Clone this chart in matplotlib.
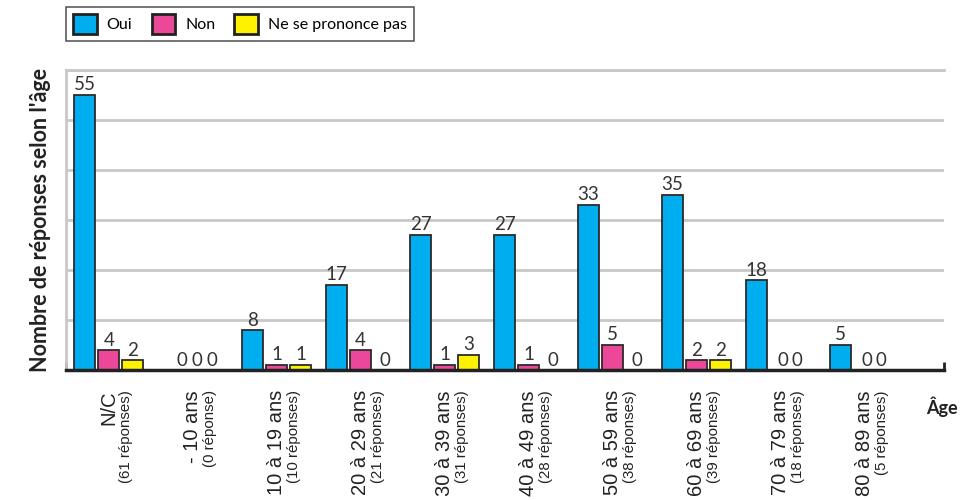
import matplotlib
matplotlib.use('Agg')
import matplotlib.pyplot as plt
from matplotlib.patches import Patch
import matplotlib.transforms as mtransforms
import numpy as np

# categories and sub-labels (number of answers per age group)
ages = ['N/C', '- 10 ans', '10 à 19 ans', '20 à 29 ans', '30 à 39 ans',
        '40 à 49 ans', '50 à 59 ans', '60 à 69 ans', '70 à 79 ans', '80 à 89 ans']
ages_sub = ['(61 réponses)', '(0 réponse)', '(10 réponses)', '(21 réponses)',
            '(31 réponses)', '(28 réponses)', '(38 réponses)', '(39 réponses)',
            '(18 réponses)', '(5 réponses)']

oui = [55, 0, 8, 17, 27, 27, 33, 35, 18, 5]
non = [4, 0, 1, 4, 1, 1, 5, 2, 0, 0]
nsp = [2, 0, 1, 0, 3, 0, 0, 2, 0, 0]

series_names = ['Oui', 'Non', 'Ne se prononce pas']
colors = ['#00aeef', '#ec4899', '#fff200']

plt.rcParams['font.family'] = ['Lato', 'DejaVu Sans']

fig = plt.figure(figsize=(9.75, 5), dpi=100)
ax = fig.add_axes([66/975, 1-370/500, (944-66)/975, 300/500])

x = np.arange(len(ages))
offs = [-0.286, 0.0, 0.286]
w = 0.25


def label_offsets(vals):
    # zero labels (no bar) are packed close together, like in the original
    o = list(offs)
    if vals == [0, 0, 0]:
        o = [-0.13, 0.05, 0.23]
    elif vals[0] > 0 and vals[1] == 0 and vals[2] == 0:
        o = [offs[0], 0.03, 0.2]
    return o


for xi in x:
    vals = [oui[xi], non[xi], nsp[xi]]
    lo = label_offsets(vals)
    for v, off, loff, c in zip(vals, offs, lo, colors):
        if v > 0:
            ax.bar(xi + off, v, width=w, color=c, edgecolor='#2b2b2b', linewidth=1.3, zorder=3)
        ax.text(xi + loff, v + 0.3, str(v), ha='center', va='bottom',
                fontsize=13.5, color='#333333', zorder=4)

ax.set_xlim(-0.51, 9.95)
ax.set_ylim(0, 60)
ax.set_yticks(np.arange(10, 61, 10))
ax.tick_params(axis='y', length=0, labelleft=False)
ax.yaxis.grid(True, color='#c8c8c8', linewidth=2)
ax.set_axisbelow(True)

# end ticks of the baseline
ax.set_xticks([-0.51, 9.95])
ax.tick_params(axis='x', direction='in', length=6, width=2, color='#222222', labelbottom=False)

ax.spines['right'].set_visible(False)
ax.spines['top'].set_color('#c8c8c8')
ax.spines['top'].set_linewidth(2)
ax.spines['left'].set_color('#c8c8c8')
ax.spines['left'].set_linewidth(2)
ax.spines['bottom'].set_color('#222222')
ax.spines['bottom'].set_linewidth(2.5)
ax.spines['bottom'].set_zorder(5)

# category labels, rotated, two sizes
trans = mtransforms.blended_transform_factory(ax.transData, ax.transAxes)
for xi, lab, sub in zip(x, ages, ages_sub):
    ax.text(xi, -0.067, lab, rotation=90, ha='center', va='top', transform=trans,
            fontsize=14.5, family='Liberation Sans', color='#222222')
    ax.text(xi + 0.21, -0.067, sub, rotation=90, ha='center', va='top', transform=trans,
            fontsize=10.8, family='Liberation Sans', color='#222222')

ax.set_ylabel("Nombre de réponses selon l'âge", fontsize=15.5, fontweight='bold',
              color='#222222', labelpad=11)

fig.text(942/975, 1-407/500, 'Âge', ha='center', va='center', fontsize=13,
         fontweight='bold', color='#222222')

handles = [Patch(facecolor=c, edgecolor='#222222', linewidth=2) for c in colors]
leg = fig.legend(handles, series_names, loc='upper left',
                 bbox_to_anchor=(66/975, 1-7/500), ncol=3, fontsize=11.5,
                 frameon=True, fancybox=False, edgecolor='#333333',
                 handlelength=1.5, handleheight=1.5, handletextpad=0.6,
                 columnspacing=1.2, borderpad=0.45, borderaxespad=0)
leg.get_frame().set_linewidth(1.2)

fig.savefig('out.png', dpi=100)
